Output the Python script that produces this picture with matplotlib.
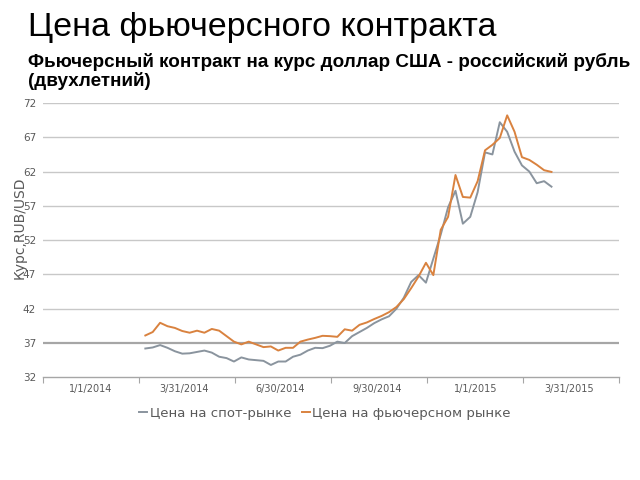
import matplotlib
matplotlib.use("Agg")
import matplotlib.pyplot as plt
import pandas as pd

# ---- data ----
tick_labels = ["1/1/2014", "3/31/2014", "6/30/2014", "9/30/2014", "1/1/2015", "3/31/2015"]
series_names = ["Цена на спот-рынке", "Цена на фьючерсном рынке"]
start_date = "2014-02-22"
n_weeks = 56

spot = [36.2, 36.35, 36.7, 36.3, 35.8, 35.45, 35.5, 35.7, 35.9, 35.6,
        35.0, 34.8, 34.3, 34.9, 34.6, 34.5, 34.4, 33.8, 34.3, 34.3,
        35.0, 35.3, 35.9, 36.3, 36.25, 36.6, 37.2, 37.0, 38.0, 38.6,
        39.2, 39.9, 40.45, 40.9, 42.0, 43.6, 45.9, 46.9, 45.8, 49.3,
        52.8, 56.8, 59.2, 54.4, 55.4, 59.0, 64.8, 64.5, 69.2, 67.8,
        64.9, 62.9, 62.0, 60.3, 60.6, 59.8]

futures = [38.1, 38.6, 39.95, 39.45, 39.2, 38.75, 38.5, 38.8, 38.5, 39.05,
           38.8, 38.0, 37.2, 36.8, 37.2, 36.8, 36.4, 36.5, 35.9, 36.3,
           36.3, 37.2, 37.5, 37.75, 38.05, 38.0, 37.9, 39.0, 38.8, 39.65,
           40.0, 40.5, 40.95, 41.5, 42.25, 43.4, 45.0, 46.7, 48.7, 46.9,
           53.5, 55.4, 61.5, 58.3, 58.2, 60.6, 65.1, 65.9, 66.9, 70.2,
           67.8, 64.1, 63.7, 63.0, 62.2, 61.95]

dates = pd.date_range(start_date, periods=n_weeks, freq="7D")
label_dates = pd.to_datetime(tick_labels, format="%m/%d/%Y")

# ---- figure ----
fig = plt.figure(figsize=(6.4, 4.8), dpi=100)
ax = fig.add_axes([43/640, 1 - 377.3/480, (619 - 43)/640, (377.3 - 103)/480])

axis_start = pd.Timestamp("2013-11-17")
bounds = [axis_start + pd.Timedelta(days=91 * k) for k in range(7)]

yticks = list(range(32, 73, 5))
for yv in yticks[1:]:
    if yv == 37:
        ax.axhline(yv, color="#A6A6A6", lw=1.6, zorder=1)
    else:
        ax.axhline(yv, color="#C8C8C8", lw=1.0, zorder=1)

ax.plot(dates, spot, color="#8A949E", lw=1.4, label=series_names[0], zorder=3)
ax.plot(dates, futures, color="#D9823F", lw=1.4, label=series_names[1], zorder=4)

ax.set_ylim(32, 72)
ax.set_xlim(bounds[0], bounds[-1])
ax.set_yticks(yticks)
ax.tick_params(axis="y", length=0, labelsize=7.5, labelcolor="#595959", pad=5)

ax.set_xticks(bounds)
ax.set_xticklabels([""] * len(bounds))
ax.set_xticks(label_dates, minor=True)
ax.set_xticklabels(tick_labels, minor=True)
ax.tick_params(axis="x", which="major", length=4, color="#A6A6A6", direction="out")
ax.tick_params(axis="x", which="minor", length=0, labelsize=7, labelcolor="#595959", pad=5)

for s in ["top", "right", "left"]:
    ax.spines[s].set_visible(False)
ax.spines["bottom"].set_color("#A6A6A6")
ax.spines["bottom"].set_linewidth(1.0)

ax.set_ylabel("Курс,RUB/USD", fontsize=10, color="#595959")
ax.yaxis.set_label_coords((27 - 43) / 576, (377.3 - 228) / 274.3)

leg = fig.legend(loc="center", bbox_to_anchor=(325/640, 1 - 413/480), ncol=2,
                 frameon=False, fontsize=9.5, handlelength=0.6, handletextpad=0.2,
                 columnspacing=0.8)
for t in leg.get_texts():
    t.set_color("#595959")

fig.text(28/640, 1 - 12/480, "Цена фьючерсного контракта", fontsize=24.5,
         family="Liberation Sans", va="top", ha="left", color="black")
fig.text(28/640, 1 - 53/480, "Фьючерсный контракт на курс доллар США - российский рубль\n(двухлетний)",
         fontsize=13.6, family="Liberation Sans", weight="bold", va="top", ha="left",
         color="black", linespacing=1.1)

fig.savefig("out.png", dpi=100)
